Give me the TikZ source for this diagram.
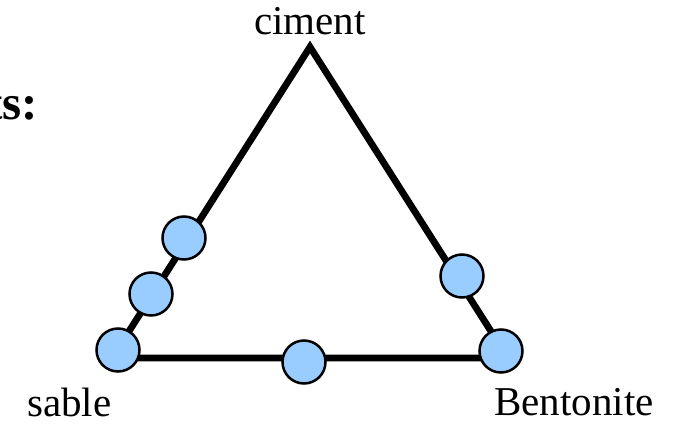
\documentclass[tikz,border=0pt]{standalone}
\usepackage{fontspec}
\setmainfont{Liberation Serif}
\definecolor{ballblue}{RGB}{153,204,255}
\begin{document}
\begin{tikzpicture}[x=1pt,y=-1pt,
  edge/.style={line width=6.8pt,line join=miter},
  ball/.style={circle,draw=black,line width=2.5pt,fill=ballblue,minimum size=43pt,inner sep=0pt},
  lbl/.style={font=\fontsize{41}{41}\selectfont,inner sep=0pt}]
\useasboundingbox (0,0) rectangle (675,425);
\coordinate (A) at (310,47);
\coordinate (L) at (112,358);
\coordinate (R) at (508,358);
\draw[edge] (A) -- (L) -- (R) -- cycle;
\node[ball] (b1) at (184,238) {};
\node[ball] (b2) at (151,294) {};
\node[ball] (b3) at (118,350) {};
\node[ball] (b4) at (304,362) {};
\node[ball] (b5) at (462,276) {};
\node[ball] (b6) at (501,351) {};
\node[lbl,anchor=base] (t1) at (310,35) {ciment};
\node[lbl,anchor=base west] (t2) at (27,416) {sable};
\node[lbl,anchor=base west] (t3) at (494,415) {Bentonite};
\node[lbl,anchor=base east,font=\fontsize{49}{49}\selectfont\bfseries] (t4) at (38,120) {ts:};
\end{tikzpicture}
\end{document}
